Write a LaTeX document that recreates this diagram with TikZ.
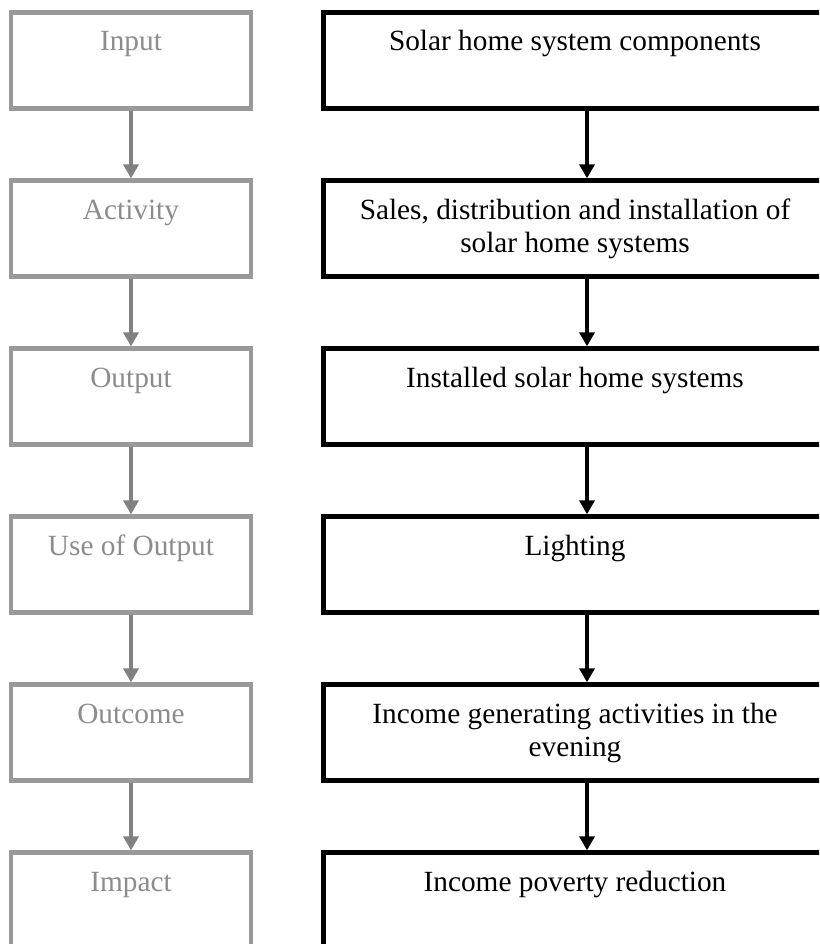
\documentclass[tikz,border=0pt]{standalone}
\usepackage{fontspec}
\setmainfont{Liberation Serif}
\usetikzlibrary{arrows.meta}
\definecolor{stagegray}{RGB}{153,153,153}
\definecolor{stagetext}{RGB}{140,140,140}
\definecolor{flowgray}{RGB}{128,128,128}
\begin{document}
\begin{tikzpicture}[x=1pt,y=-1pt,
  stagebox/.style={draw=stagegray, line width=4.3pt, minimum width=240pt,
    minimum height=96pt, inner sep=0pt},
  chainbox/.style={draw=black, line width=4.3pt, minimum width=503pt,
    minimum height=96pt, inner sep=0pt},
  boxtext/.style={anchor=north, inner sep=0pt, align=center,
    font=\fontsize{29.3}{33.5}\selectfont},
  stagelabel/.style={boxtext, text=stagetext},
  chainlabel/.style={boxtext, text=black},
  stageflow/.style={draw=flowgray, line width=4.6pt,
    -{Triangle[width=15pt,length=14pt]}},
  chainflow/.style={draw=black, line width=4.6pt,
    -{Triangle[width=15pt,length=14pt]}}
]
\useasboundingbox (0,0) rectangle (819,944);
\fill[white] (0,0) rectangle (819,944);
\clip (0,0) rectangle (819,944);

% stage column (left) and results chain (right)
\foreach \i/\stage/\chain in {
  1/Input/Solar home system components,
  2/Activity/{Sales, distribution and installation of\\ solar home systems},
  3/Output/Installed solar home systems,
  4/Use of Output/Lighting,
  5/Outcome/{Income generating activities in the\\ evening},
  6/Impact/Income poverty reduction}{
  \node[stagebox] (l\i) at (131, {60.5 + 168*(\i-1)}) {};
  \node[chainbox] (r\i) at (575, {60.5 + 168*(\i-1)}) {};
  \node[stagelabel] (lt\i) at ([yshift=-17pt]l\i.north) {\strut\stage};
  \node[chainlabel] (rt\i) at ([yshift=-17pt]r\i.north) {\strut\chain};
}

% connectors between consecutive levels
\foreach \i [evaluate=\i as \j using int(\i+1)] in {1,...,5}{
  \draw[stageflow] (l\i.south) -- (l\j.north);
  \draw[chainflow] ([xshift=12pt]r\i.south) -- ([xshift=12pt]r\j.north);
}
\end{tikzpicture}
\end{document}
